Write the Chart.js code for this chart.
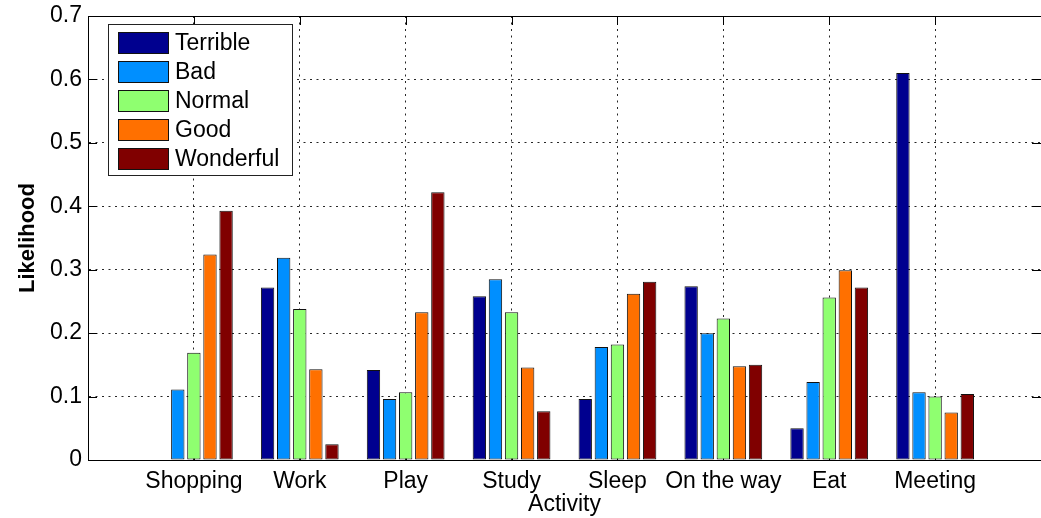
<!DOCTYPE html>
<html>
<head>
<meta charset="utf-8">
<script src="https://cdn.jsdelivr.net/npm/chart.js@4.4.0/dist/chart.umd.min.js"></script>
<style>
  html, body { margin: 0; padding: 0; background: #fff; }
  #wrap { width: 1041px; height: 518px; }
</style>
</head>
<body>
<div id="wrap"><canvas id="c" width="1041" height="518"></canvas></div>
<script>
// Activities on the x axis
const activities = ['Shopping', 'Work', 'Play', 'Study', 'Sleep', 'On the way', 'Eat', 'Meeting'];

// Likelihood of each mood per activity
const terrible  = [0.000, 0.272, 0.142, 0.258, 0.096, 0.274, 0.050, 0.610];
const bad       = [0.111, 0.319, 0.096, 0.285, 0.178, 0.200, 0.123, 0.107];
const normal    = [0.169, 0.238, 0.107, 0.233, 0.182, 0.223, 0.256, 0.100];
const good      = [0.324, 0.143, 0.233, 0.146, 0.262, 0.148, 0.299, 0.075];
const wonderful = [0.393, 0.025, 0.422, 0.077, 0.281, 0.150, 0.272, 0.104];

const moods = ['Terrible', 'Bad', 'Normal', 'Good', 'Wonderful'];
const moodColors = ['#00008f', '#008fff', '#8fff70', '#ff7000', '#800000'];

// y axis ticks
const yTicks = [0, 0.1, 0.2, 0.3, 0.4, 0.5, 0.6, 0.7];

const FONT = '"Liberation Sans", Arial, Helvetica, sans-serif';

// One empty slot on each side so the axis spans 0..9 with groups at 1..8
const labels = ['', ...activities, ''];
const pad = arr => [null, ...arr, null];

const series = [terrible, bad, normal, good, wonderful];

// Inward tick marks (under the bars) and the closed box + legend (on top)
const framePlugin = {
  id: 'frame',
  beforeDatasetsDraw(chart) {
    const { ctx, chartArea: a, scales } = chart;
    const L = 9;
    ctx.save();
    ctx.strokeStyle = '#000';
    ctx.lineWidth = 1;
    ctx.beginPath();
    yTicks.forEach(v => {
      const y = Math.round(scales.y.getPixelForValue(v)) + 0.5;
      ctx.moveTo(a.left, y); ctx.lineTo(a.left + L, y);
      ctx.moveTo(a.right, y); ctx.lineTo(a.right - L, y);
    });
    activities.forEach((_, i) => {
      const x = Math.round(scales.x.getPixelForValue(i + 1)) + 0.5;
      ctx.moveTo(x, a.top); ctx.lineTo(x, a.top + L);
      ctx.moveTo(x, a.bottom); ctx.lineTo(x, a.bottom - L);
    });
    ctx.stroke();
    ctx.restore();
  },
  afterDatasetsDraw(chart) {
    const { ctx, chartArea: a } = chart;
    ctx.save();
    // box around the plot
    ctx.strokeStyle = '#000';
    ctx.lineWidth = 1;
    const l = Math.round(a.left) + 0.5, t = Math.round(a.top) + 0.5;
    const r = Math.round(a.right) + 0.5, b = Math.round(a.bottom) + 0.5;
    ctx.strokeRect(l, t, r - l, b - t);

    // legend
    const lx = a.left + 20, ly = a.top + 8, lw = 184, lh = 151;
    ctx.fillStyle = '#fff';
    ctx.fillRect(lx, ly, lw, lh);
    ctx.strokeStyle = '#222';
    ctx.lineWidth = 1;
    ctx.strokeRect(Math.round(lx) + 0.5, Math.round(ly) + 0.5, lw, lh);
    ctx.font = '23px ' + FONT;
    ctx.textBaseline = 'middle';
    ctx.textAlign = 'left';
    chart.data.datasets.forEach((ds, i) => {
      const sy = ly + 8 + i * 29;
      ctx.fillStyle = ds.backgroundColor;
      ctx.fillRect(lx + 10, sy, 50, 21);
      ctx.strokeStyle = '#111';
      ctx.strokeRect(Math.round(lx + 10) + 0.5, Math.round(sy) + 0.5, 50, 21);
      ctx.fillStyle = '#000';
      ctx.fillText(ds.label, lx + 67, sy + 11.5);
    });
    ctx.restore();
  }
};

new Chart(document.getElementById('c'), {
  type: 'bar',
  data: {
    labels: labels,
    datasets: moods.map((m, i) => ({
      label: m,
      data: pad(series[i]),
      backgroundColor: moodColors[i],
      borderColor: '#111',
      borderWidth: 1,
      borderSkipped: false,
      categoryPercentage: 0.76,
      barPercentage: 0.83
    }))
  },
  options: {
    responsive: false,
    animation: false,
    devicePixelRatio: 1,
    layout: { padding: { top: 16, right: 0, left: 0, bottom: 0 } },
    plugins: { legend: { display: false }, tooltip: { enabled: false } },
    scales: {
      x: {
        offset: false,
        grid: {
          display: true,
          offset: false,
          drawTicks: false,
          color: 'rgba(0,0,0,0.85)',
          lineWidth: 1
        },
        border: { display: true, color: '#000', width: 1, dash: [2, 4.5] },
        ticks: {
          autoSkip: false,
          maxRotation: 0,
          padding: 8,
          color: '#000',
          font: { family: FONT, size: 23 }
        },
        title: {
          display: true,
          text: 'Activity',
          color: '#000',
          font: { family: FONT, size: 23 },
          padding: { top: 0, bottom: 0 }
        },
        afterFit(scale) {
          scale.height = 58;
          scale.paddingLeft = 0;
          scale.paddingRight = 0;
        }
      },
      y: {
        min: 0,
        max: 0.7,
        afterBuildTicks(scale) { scale.ticks = yTicks.map(v => ({ value: v })); },
        grid: {
          display: true,
          drawTicks: false,
          color: 'rgba(0,0,0,0.85)',
          lineWidth: 1
        },
        border: { display: true, color: '#000', width: 1, dash: [2, 4.5] },
        ticks: {
          padding: 6,
          color: '#000',
          font: { family: FONT, size: 23 },
          callback: v => String(+Number(v).toFixed(1))
        },
        title: {
          display: true,
          text: 'Likelihood',
          color: '#000',
          font: { family: FONT, size: 22, weight: 'bold' },
          padding: { top: 15, bottom: 0 }
        },
        afterFit(scale) {
          scale.width = 88;
          scale.paddingTop = 0;
          scale.paddingBottom = 0;
        }
      }
    }
  },
  plugins: [framePlugin]
});
</script>
</body>
</html>
